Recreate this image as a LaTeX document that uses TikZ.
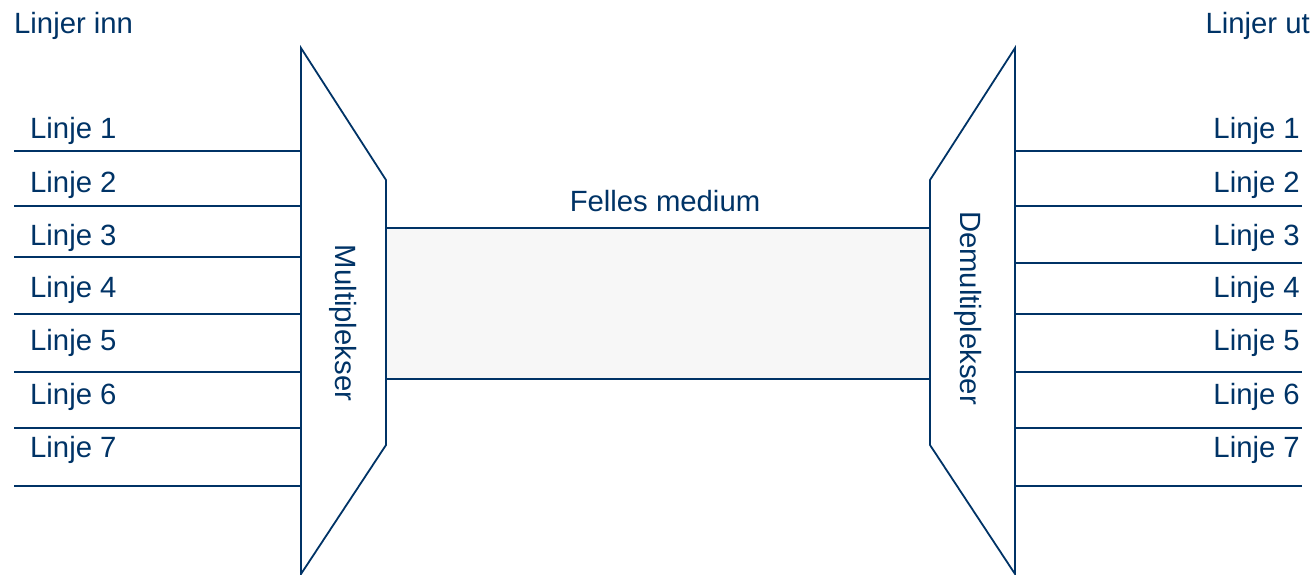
\documentclass[tikz,border=0pt]{standalone}
\usepackage{fontspec}
\setmainfont{Liberation Sans}
\definecolor{navy}{RGB}{0,51,102}
\definecolor{medfill}{RGB}{247,247,247}
\begin{document}
\begin{tikzpicture}[x=1pt,y=-1pt,
  lbl/.style={text=navy,font=\fontsize{29.3}{35}\selectfont,inner sep=0pt},
  wire/.style={draw=navy,line width=1.8pt},
  box/.style={draw=navy,line width=1.8pt,line join=miter}]
\useasboundingbox (0,0) rectangle (1315,574);
% headings
\node[lbl,anchor=base west] (inn) at (14,33) {Linjer inn};
\node[lbl,anchor=base east] (ut) at (1310,33) {Linjer ut};
% multiplexer
\coordinate (m1) at (301,48);
\coordinate (m2) at (386,180);
\coordinate (m3) at (386,445);
\coordinate (m4) at (301,574);
\draw[box] (m1) -- (m2) -- (m3) -- (m4) -- cycle;
\node[lbl,rotate=-90] (mux) at (343,323) {Multiplekser};
% demultiplexer
\coordinate (d1) at (1015,48);
\coordinate (d2) at (930,180);
\coordinate (d3) at (930,445);
\coordinate (d4) at (1015,574);
\draw[box] (d1) -- (d2) -- (d3) -- (d4) -- cycle;
\node[lbl,rotate=-90] (demux) at (968,308) {Demultiplekser};
% medium
\node[draw=navy,line width=1.8pt,fill=medfill,minimum width=544pt,minimum height=151pt,inner sep=0pt] (med) at (658,303.5) {};
\node[lbl,anchor=base] (medlbl) at (665,211) {Felles medium};
% input lines
\foreach \i/\y/\b in {1/151/138,2/206/192,3/257/245,4/314/297,5/372/350,6/428/404,7/486/457}{
  \coordinate (li\i) at (14,\y);
  \coordinate (mi\i) at (301,\y);
  \draw[wire] (li\i) -- (mi\i);
  \node[lbl,anchor=base west] (inl\i) at (30,\b) {Linje \i};
}
% output lines
\foreach \i/\y/\b in {1/151/138,2/206/192,3/263/245,4/314/297,5/372/350,6/428/404,7/486/457}{
  \coordinate (do\i) at (1015,\y);
  \coordinate (lo\i) at (1302,\y);
  \draw[wire] (do\i) -- (lo\i);
  \node[lbl,anchor=base east] (outl\i) at (1300,\b) {Linje \i};
}
\end{tikzpicture}
\end{document}
